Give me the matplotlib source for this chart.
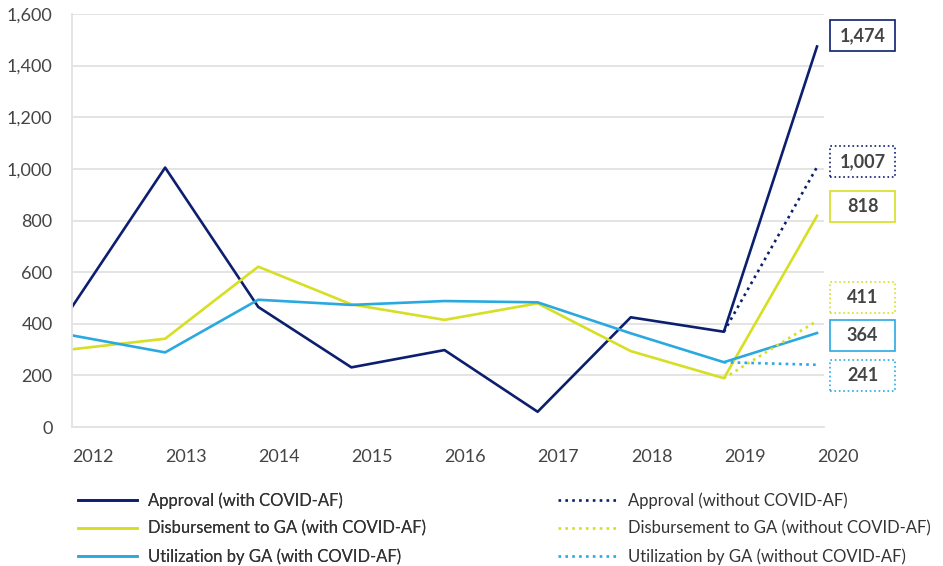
import numpy as np
import matplotlib.pyplot as plt
from matplotlib.patches import Rectangle
import matplotlib.transforms as mtransforms

plt.rcParams['font.family'] = ['Lato', 'DejaVu Sans']

years = ["2012", "2013", "2014", "2015", "2016", "2017", "2018", "2019", "2020"]

approval = [465, 1005, 465, 231, 298, 59, 425, 369, 1474]
disbursement = [301, 342, 621, 475, 415, 479, 294, 189, 818]
utilization = [355, 289, 493, 473, 488, 483, 363, 251, 364]

# without COVID-AF only differs from 2019 on
approval_wo = [369, 1007]
disbursement_wo = [189, 411]
utilization_wo = [251, 241]

NAVY = "#0c1f6e"
YELLOW = "#d6df23"
BLUE = "#2aa9e0"
TEXT = "#444444"
GRID = "#e2e2e2"


def main():
    fig = plt.figure(figsize=(9.43, 5.66), dpi=100)
    ax = fig.add_axes([72 / 943, 1 - 427 / 566, 752 / 943, 413 / 566])

    x = np.arange(len(years))
    x_wo = x[-2:]

    lw = 1.9
    h1, = ax.plot(x, approval, color=NAVY, lw=lw, label="Approval (with COVID-AF)")
    h2, = ax.plot(x, disbursement, color=YELLOW, lw=lw, label="Disbursement to GA (with COVID-AF)")
    h3, = ax.plot(x, utilization, color=BLUE, lw=lw, label="Utilization by GA (with COVID-AF)")
    h4, = ax.plot(x_wo, approval_wo, color=NAVY, lw=lw, ls=(0, (1, 1.6)), label="Approval (without COVID-AF)")
    h5, = ax.plot(x_wo, disbursement_wo, color=YELLOW, lw=lw, ls=(0, (1, 1.6)), label="Disbursement to GA (without COVID-AF)")
    h6, = ax.plot(x_wo, utilization_wo, color=BLUE, lw=lw, ls=(0, (1, 1.6)), label="Utilization by GA (without COVID-AF)")

    ax.set_xlim(0, 8.075)
    ax.set_ylim(0, 1600)
    ax.set_yticks(np.arange(0, 1601, 200))
    ax.set_yticklabels([f"{v:,}" for v in range(0, 1601, 200)])
    ax.set_xticks(x)
    ax.set_xticklabels(years, ha="left")
    ax.tick_params(axis="both", length=0, labelsize=13, labelcolor=TEXT)
    ax.tick_params(axis="y", pad=14)
    ax.tick_params(axis="x", pad=16)
    ax.grid(axis="y", color=GRID, lw=1.3)
    ax.set_axisbelow(True)
    for s in ["top", "right"]:
        ax.spines[s].set_visible(False)
    for s in ["left", "bottom"]:
        ax.spines[s].set_color(GRID)
        ax.spines[s].set_linewidth(1.3)

    # value boxes to the right of 2020
    trans = mtransforms.blended_transform_factory(ax.transAxes, ax.transData)
    boxes = [
        ("1,474", 1515, NAVY, "-"),
        ("1,007", 1027, NAVY, ":"),
        ("818", 856, YELLOW, "-"),
        ("411", 500, YELLOW, ":"),
        ("364", 356, BLUE, "-"),
        ("241", 198, BLUE, ":"),
    ]
    bx0, bx1 = (830 - 72) / 752, (895 - 72) / 752
    bh = 31 / 413 * 1600
    for txt, yc, col, ls in boxes:
        ax.add_patch(Rectangle((bx0, yc - bh / 2), bx1 - bx0, bh, transform=trans,
                               fill=False, edgecolor=col, lw=1.2, ls=ls, clip_on=False))
        ax.text((bx0 + bx1) / 2, yc, txt, transform=trans, ha="center", va="center",
                fontsize=13, fontweight="bold", color=TEXT)

    leg_kw = dict(frameon=False, fontsize=12, handlelength=3.5, handletextpad=0.65,
                  labelspacing=0.7, borderpad=0, loc="upper left", labelcolor="#333333")
    l1 = fig.legend([h1, h2, h3], [h.get_label() for h in (h1, h2, h3)],
                    bbox_to_anchor=(70 / 943, 1 - 484 / 566), **leg_kw)
    fig.add_artist(l1)
    fig.legend([h4, h5, h6], [h.get_label() for h in (h4, h5, h6)],
               bbox_to_anchor=(550 / 943, 1 - 484 / 566), **leg_kw)

    fig.savefig("out.png", dpi=100)


if __name__ == "__main__":
    main()
